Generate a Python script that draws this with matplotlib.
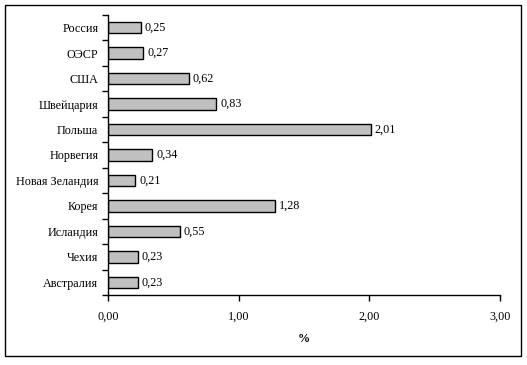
import matplotlib
matplotlib.use("Agg")
import matplotlib.pyplot as plt
import numpy as np
from matplotlib.patches import Rectangle

categories = ["Австралия", "Чехия", "Исландия", "Корея", "Новая Зеландия",
              "Норвегия", "Польша", "Швейцария", "США", "ОЭСР", "Россия"]
values = [0.23, 0.23, 0.55, 1.28, 0.21, 0.34, 2.01, 0.83, 0.62, 0.27, 0.25]
xticks = [0, 1, 2, 3]
xtick_labels = ["0,00", "1,00", "2,00", "3,00"]

plt.rcParams['font.family'] = ['Liberation Serif', 'DejaVu Serif']
FS = 8.7

fig = plt.figure(figsize=(5.27, 3.65), dpi=100)
ax = fig.add_axes([108/527, 1-295/365, 392/527, 280/365])

y = np.arange(len(categories))
ax.barh(y, values, height=0.45, color="#c0c0c0", edgecolor="black", linewidth=1)
for yi, v in zip(y, values):
    ax.text(v + 0.03, yi, f"{v:.2f}".replace(".", ","), va="center", ha="left", fontsize=FS)

ax.set_xlim(0, 3)
ax.set_ylim(-0.5, len(categories) - 0.5)
ax.set_xticks(xticks)
ax.set_xticklabels(xtick_labels, fontsize=FS)
ax.set_yticks(y)
ax.set_yticklabels(categories, fontsize=FS)
ax.tick_params(axis="y", which="major", length=0, pad=7)
ax.set_yticks(np.arange(-0.5, len(categories), 1.0), minor=True)
ax.tick_params(axis="y", which="minor", length=4, width=1, direction="out")
ax.tick_params(axis="x", length=4, width=1, direction="out", pad=7)
for s in ["top", "right"]:
    ax.spines[s].set_visible(False)
ax.spines["left"].set_linewidth(1)
ax.spines["bottom"].set_linewidth(1)
ax.set_xlabel("%", fontsize=FS, fontweight="bold", labelpad=8)

fig.patches.append(Rectangle((5/527, 1-356/365), 516/527, 351/365, transform=fig.transFigure,
                             fill=False, edgecolor="black", linewidth=1))

fig.savefig("out.png", dpi=100)
